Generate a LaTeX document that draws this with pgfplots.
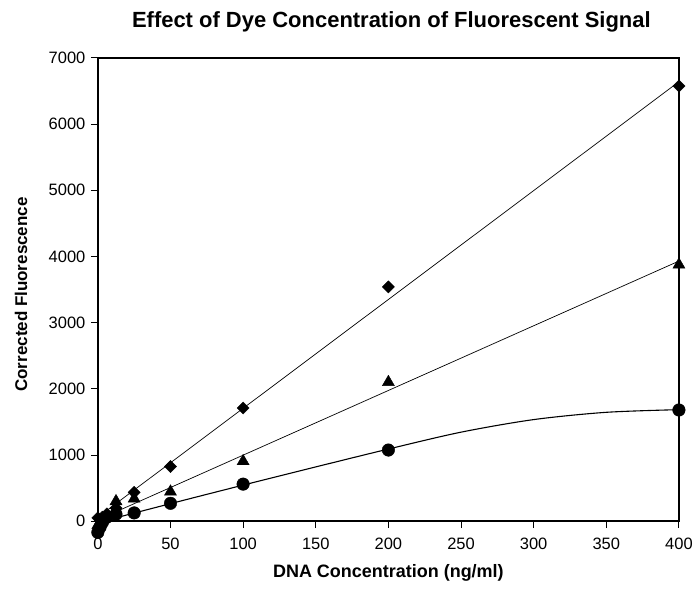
\documentclass[border=0pt]{standalone}
\usepackage{pgfplots}
\pgfplotsset{compat=1.18}
\usepackage{fontspec}
\setmainfont{Liberation Sans}
\usetikzlibrary{calc}
\begin{document}
\begin{tikzpicture}
\begin{axis}[name=ax,
  scale only axis, width=582pt, height=464pt,
  xmin=0, xmax=400, ymin=0, ymax=7000,
  axis line style={line width=2pt},
  xtick={0,50,...,400}, ytick={0,1000,...,7000},
  tick pos=left, tick align=outside,
  major tick length=7pt,
  tick style={line width=0.9pt, black},
  every tick label/.append style={font=\fontsize{16.5}{18}\selectfont},
  /pgf/number format/assume math mode=true,
  scaled y ticks=false,
  yticklabel style={/pgf/number format/1000 sep={}, xshift=-2pt},
  xticklabel style={yshift=-6pt},
  clip=false,
]
% fit lines
\addplot[black, line width=0.7pt] coordinates {(0,60) (400,6640)};
\addplot[black, line width=0.7pt] coordinates {(0,20) (400,3930)};
\addplot[black, line width=1.1pt, smooth] coordinates {(0,-20) (50,265) (100,545) (150,820) (200,1090) (250,1345) (300,1535) (350,1645) (400,1685)};
% data
\addplot[only marks, mark=square*, mark options={rotate=45}, mark size=4.3pt, black] coordinates {
(0,50) (1.56,20) (3.125,60) (6.25,110) (12.5,200) (25,435) (50,825) (100,1710) (200,3540) (400,6575)};
\addplot[only marks, mark=triangle*, mark size=7pt, black] coordinates {
(0,-60) (1.56,-20) (3.125,20) (6.25,50) (12.5,300) (25,340) (50,445) (100,905) (200,2100) (400,3875)};
\addplot[only marks, mark=*, mark size=6.3pt, black] coordinates {
(0,-170) (1.56,-90) (3.125,-20) (6.25,60) (12.5,105) (25,125) (50,270) (100,560) (200,1075) (400,1680)};
\end{axis}
\node[font=\bfseries\fontsize{22}{24}\selectfont] at ($(ax.north)+(3pt,36pt)$) {Effect of Dye Concentration of Fluorescent Signal};
\node[font=\bfseries\fontsize{18}{20}\selectfont] at ($(ax.south)+(0,-52pt)$) {DNA Concentration (ng/ml)};
\node[font=\bfseries\fontsize{17}{19}\selectfont, rotate=90] at ($(ax.west)+(-77pt,-5pt)$) {Corrected Fluorescence};
\path[use as bounding box] ($(ax.south west)+(-98pt,-67pt)$) rectangle ($(ax.north east)+(16pt,58pt)$);
\end{tikzpicture}
\end{document}
